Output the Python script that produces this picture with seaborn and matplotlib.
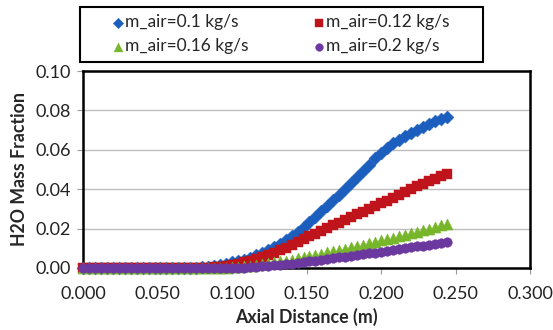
import numpy as np
import pandas as pd
import matplotlib
matplotlib.use("Agg")
import matplotlib.pyplot as plt
from matplotlib.patches import Rectangle
import seaborn as sns

# ---------------- data ----------------
axial = [0.000, 0.004, 0.008, 0.012, 0.016, 0.020, 0.024, 0.028, 0.032, 0.036,
         0.040, 0.044, 0.048, 0.052, 0.056, 0.060, 0.064, 0.068, 0.072, 0.076,
         0.080, 0.084, 0.088, 0.092, 0.096, 0.100, 0.104, 0.108, 0.112, 0.116,
         0.120, 0.124, 0.128, 0.132, 0.136, 0.140, 0.144, 0.148, 0.152, 0.156,
         0.160, 0.164, 0.168, 0.172, 0.176, 0.180, 0.184, 0.188, 0.192, 0.196,
         0.200, 0.204, 0.208, 0.212, 0.216, 0.220, 0.224, 0.228, 0.232, 0.236,
         0.240, 0.244]

m_air_01 = [0, 0, 0, 0, 0, 0, 0, 0, 0, 0,
            0, 0, 0, 0, 0, 0, 0, 0.0001, 0.0001, 0.0002,
            0.0004, 0.0006, 0.0010, 0.0015, 0.0021, 0.0028, 0.0035, 0.0043, 0.0053, 0.0064,
            0.0076, 0.0090, 0.0105, 0.0122, 0.0140, 0.0160, 0.0181, 0.0207, 0.0234, 0.0261,
            0.0288, 0.0316, 0.0344, 0.0372, 0.0401, 0.0432, 0.0463, 0.0494, 0.0525, 0.0556,
            0.0585, 0.0610, 0.0632, 0.0652, 0.0670, 0.0687, 0.0703, 0.0718, 0.0732, 0.0745,
            0.0757, 0.0768]

m_air_012 = [0, 0, 0, 0, 0, 0, 0, 0, 0, 0,
             0, 0, 0, 0, 0, 0, 0, 0, 0, 0,
             0, 0, 0.0003, 0.0006, 0.0010, 0.0015, 0.0021, 0.0028, 0.0036, 0.0045,
             0.0055, 0.0066, 0.0078, 0.0091, 0.0104, 0.0118, 0.0132, 0.0146, 0.0160, 0.0174,
             0.0188, 0.0202, 0.0216, 0.0230, 0.0244, 0.0258, 0.0272, 0.0286, 0.0300, 0.0314,
             0.0328, 0.0342, 0.0356, 0.0369, 0.0384, 0.0400, 0.0414, 0.0427, 0.0440, 0.0453,
             0.0466, 0.0478]

m_air_016 = [0, 0, 0, 0, 0, 0, 0, 0, 0, 0,
             0, 0, 0, 0, 0, 0, 0, 0, 0, 0,
             0, 0, 0, 0, 0.0002, 0.0004, 0.0006, 0.0009, 0.0012, 0.0015,
             0.0019, 0.0023, 0.0028, 0.0033, 0.0038, 0.0043, 0.0049, 0.0055, 0.0061, 0.0067,
             0.0073, 0.0079, 0.0085, 0.0091, 0.0098, 0.0105, 0.0112, 0.0119, 0.0126, 0.0133,
             0.0140, 0.0147, 0.0154, 0.0161, 0.0168, 0.0176, 0.0184, 0.0192, 0.0200, 0.0208,
             0.0216, 0.0224]

m_air_02 = [0, 0, 0, 0, 0, 0, 0, 0, 0, 0,
            0, 0, 0, 0, 0, 0, 0, 0, 0, 0,
            0, 0, 0, 0, 0, 0, 0.0001, 0.0002, 0.0004, 0.0006,
            0.0008, 0.0010, 0.0013, 0.0016, 0.0019, 0.0022, 0.0026, 0.0030, 0.0034, 0.0038,
            0.0042, 0.0046, 0.0050, 0.0054, 0.0058, 0.0062, 0.0066, 0.0070, 0.0074, 0.0078,
            0.0082, 0.0087, 0.0092, 0.0097, 0.0102, 0.0106, 0.0110, 0.0114, 0.0118, 0.0122,
            0.0126, 0.0130]

series_labels = ["m_air=0.1 kg/s", "m_air=0.12 kg/s", "m_air=0.16 kg/s", "m_air=0.2 kg/s"]
x_ticks = [0.000, 0.050, 0.100, 0.150, 0.200, 0.250, 0.300]
y_ticks = [0.00, 0.02, 0.04, 0.06, 0.08, 0.10]

# ---------------- styling ----------------
colors = ["#1B5EBE", "#C0141C", "#77B62A", "#6B38A0"]
markers = ["D", "s", "^", "o"]
sizes = [44, 46, 64, 48]

df = pd.concat([
    pd.DataFrame({"x": axial, "y": vals, "series": lab})
    for vals, lab in zip([m_air_01, m_air_012, m_air_016, m_air_02], series_labels)
], ignore_index=True)

sns.set_theme(style="white")
plt.rcParams["font.family"] = ["Lato", "DejaVu Sans"]

fig = plt.figure(figsize=(5.53, 3.30), dpi=100)
ax = fig.add_axes([83 / 553, 1 - 268 / 330, (530 - 83) / 553, (268 - 71) / 330])

for lab, c, m, s in zip(series_labels, colors, markers, sizes):
    sub = df[df["series"] == lab]
    sns.scatterplot(data=sub, x="x", y="y", ax=ax, color=c, marker=m, s=s,
                    edgecolor=c, linewidth=0.3, label=lab, clip_on=False, zorder=3)

ax.set_xlim(0, 0.3)
ax.set_ylim(0, 0.1)
ax.set_xticks(x_ticks)
ax.set_xticklabels([f"{v:.3f}" for v in x_ticks])
ax.set_yticks(y_ticks)
ax.set_yticklabels([f"{v:.2f}" for v in y_ticks])
ax.yaxis.grid(True, color="#BEBEBE", linewidth=1.0)
ax.set_axisbelow(True)
for sp in ax.spines.values():
    sp.set_color("black")
    sp.set_linewidth(1.8)
ax.tick_params(axis="both", labelsize=13, colors="#222222", length=4, width=0.8,
               direction="out", bottom=True, left=True)
ax.tick_params(axis="y", pad=5, color="#999999")
ax.tick_params(axis="x", pad=9, color="#999999")
ax.set_xlabel("Axial Distance (m)", fontsize=12.8, fontweight="bold", labelpad=4)
ax.set_ylabel("H2O Mass Fraction", fontsize=12.8, fontweight="bold", labelpad=5)

# measure text width to size legend font like the reference (~123 px for widest label)
renderer = fig.canvas.get_renderer()
probe = fig.text(0, 0, "m_air=0.16 kg/s", fontsize=10)
w10 = probe.get_window_extent(renderer=renderer).width
probe.remove()
leg_fs = 10 * 123.0 / w10
fs_px = leg_fs * 100 / 72.0

handles, labels = ax.get_legend_handles_labels()
ax.get_legend().remove()
order = [0, 2, 1, 3]
fig.legend([handles[i] for i in order], [labels[i] for i in order],
           loc="center", bbox_to_anchor=(281 / 553, 1 - 34.5 / 330), ncol=2,
           frameon=False, fontsize=leg_fs, handletextpad=2.0 / fs_px,
           handlelength=11.0 / fs_px, columnspacing=65.0 / fs_px,
           labelspacing=8.0 / fs_px, markerscale=0.8)
fig.patches.append(Rectangle((80 / 553, 1 - 62 / 330), 403 / 553, 55 / 330,
                             transform=fig.transFigure, fill=False,
                             edgecolor="black", linewidth=1.5))

fig.savefig("out.png", dpi=100)
